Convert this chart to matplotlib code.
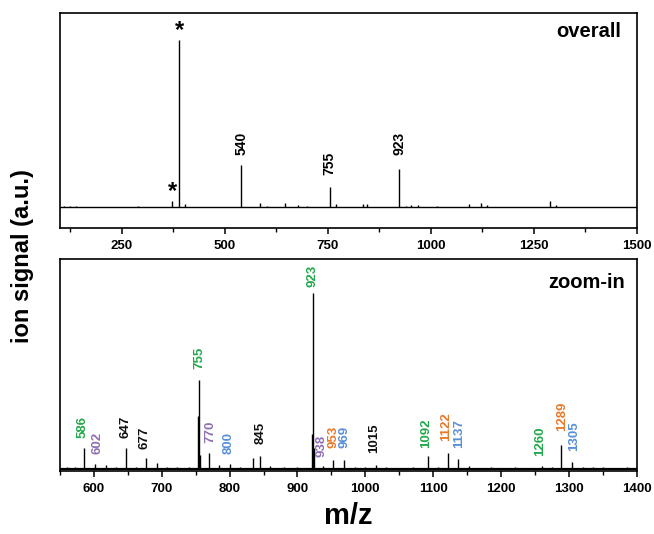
import matplotlib
matplotlib.use("Agg")
import matplotlib.pyplot as plt
from matplotlib.ticker import MultipleLocator

plt.rcParams['font.family'] = ['Liberation Sans', 'DejaVu Sans']
plt.rcParams['font.weight'] = 'bold'

# ---------------- data ----------------
# overall spectrum (m/z, relative intensity)
overall_mz = [110, 125, 140, 290, 372, 390, 404, 540, 586, 602, 647, 677, 700,
              755, 770, 835, 845, 923, 940, 953, 969, 1015, 1092, 1122, 1137,
              1289, 1305]
overall_int = [0.8, 0.6, 0.5, 0.8, 3.3, 100, 2.0, 24.8, 2.5, 0.8, 2.2, 1.2, 0.8,
               11.7, 1.5, 1.5, 1.8, 22.6, 0.8, 1.0, 1.0, 0.6, 1.8, 2.2, 1.0,
               3.3, 1.0]
overall_labels = ['540', '755', '923']
overall_label_y = [31.1, 19.2, 31.1]
star_mz = [390, 372]
star_y = [105.5, 9.5]

# zoom-in spectrum
zoom_mz = [560, 572, 586, 602, 618, 632, 647, 662, 677, 693, 708, 722, 740,
           754, 755, 756.5, 770, 785, 800, 815, 835, 845, 860, 880, 900,
           921.5, 923, 924.5, 938, 953, 969, 985, 1000, 1015, 1030, 1050, 1070,
           1092, 1107, 1122, 1137, 1152, 1170, 1185, 1200, 1220, 1240, 1260,
           1275, 1289, 1305, 1320, 1335, 1350, 1365, 1385]
zoom_int = [0.8, 0.8, 11.6, 2.9, 2.0, 1.0, 12.0, 1.2, 6.3, 3.0, 1.2, 1.0, 0.8,
            30, 50.5, 8, 8.8, 2.2, 2.5, 1.2, 5.9, 7.2, 1.5, 1.0, 0.8,
            20, 100, 12, 1.5, 4.8, 4.8, 1.0, 1.0, 2.1, 0.8, 0.6, 0.8,
            7.2, 1.0, 9.0, 5.3, 1.5, 0.6, 0.8, 0.6, 0.8, 0.6, 1.5,
            0.8, 13.5, 4.0, 1.2, 0.8, 0.8, 0.6, 0.8]

zoom_labels = ['923', '755', '586', '602', '647', '677', '770', '800', '845',
               '938', '953', '969', '1015', '1092', '1122', '1137', '1260',
               '1289', '1305']
zoom_label_x = [922, 756, 583, 605, 647, 675, 771, 799, 845,
                935, 952.5, 970, 1013, 1090, 1118.5, 1138.5, 1258, 1289.5, 1307]
zoom_label_y = [103.4, 56.8, 17.7, 8.2, 17.7, 11.0, 14.9, 8.2, 13.9,
                6.7, 11.6, 11.6, 9.1, 12.0, 15.8, 12.0, 7.2, 21.5, 10.1]
GREEN, PURPLE, BLUE, ORANGE, BLACK = '#22a84a', '#8f6fb5', '#5a8fd6', '#e8792a', '#111111'
zoom_label_colors = [GREEN, GREEN, GREEN, PURPLE, BLACK, BLACK, PURPLE, BLUE, BLACK,
                     PURPLE, ORANGE, BLUE, BLACK, GREEN, ORANGE, BLUE, GREEN,
                     ORANGE, BLUE]

# ---------------- figure ----------------
fig = plt.figure(figsize=(6.54, 5.34), dpi=100)
ax1 = fig.add_axes([0.0917, 0.573, 0.882, 0.4026])
ax2 = fig.add_axes([0.0917, 0.118, 0.882, 0.397])

# overall
ax1.axhline(0, color='black', lw=1.0, zorder=2)
ax1.vlines(overall_mz, 0, overall_int, color='black', lw=1.0)
ax1.set_xlim(100, 1500)
ax1.set_ylim(-12.6, 115.9)
for lab, y in zip(overall_labels, overall_label_y):
    ax1.text(float(lab), y, lab, rotation=90, ha='center', va='bottom',
             fontsize=10, fontweight='bold', color='black')
for x, y in zip(star_mz, star_y):
    ax1.text(x, y, '*', ha='center', va='center', fontsize=17, fontweight='bold')
ax1.text(0.972, 0.912, 'overall', transform=ax1.transAxes, ha='right', va='center',
         fontsize=14.5, fontweight='bold')
ax1.xaxis.set_major_locator(MultipleLocator(250))
ax1.xaxis.set_minor_locator(MultipleLocator(125))

# zoom-in
ax2.axhline(0, color='black', lw=1.6, zorder=2)
ax2.vlines(zoom_mz, 0, zoom_int, color='black', lw=1.0)
ax2.set_xlim(550, 1400)
ax2.set_ylim(-1.3, 119.3)
for lab, x, y, c in zip(zoom_labels, zoom_label_x, zoom_label_y, zoom_label_colors):
    ax2.text(x, y, lab, rotation=90, ha='center', va='bottom',
             fontsize=9.5, fontweight='bold', color=c)
ax2.text(0.98, 0.89, 'zoom-in', transform=ax2.transAxes, ha='right', va='center',
         fontsize=14.5, fontweight='bold')
ax2.xaxis.set_major_locator(MultipleLocator(100))
ax2.xaxis.set_minor_locator(MultipleLocator(50))

for ax in (ax1, ax2):
    ax.set_yticks([])
    for s in ax.spines.values():
        s.set_linewidth(1.2)
    ax.tick_params(axis='x', which='major', direction='out', length=4.5, width=1.1,
                   labelsize=9.5, pad=4)
    ax.tick_params(axis='x', which='minor', direction='out', length=3, width=1.0)
    for t in ax.get_xticklabels():
        t.set_fontweight('bold')

ax2.set_xlabel('m/z', fontsize=21, fontweight='bold', labelpad=5)
fig.text(0.034, 0.52, 'ion signal (a.u.)', rotation=90, ha='center', va='center',
         fontsize=17, fontweight='bold')

fig.savefig('out.png', dpi=100)
